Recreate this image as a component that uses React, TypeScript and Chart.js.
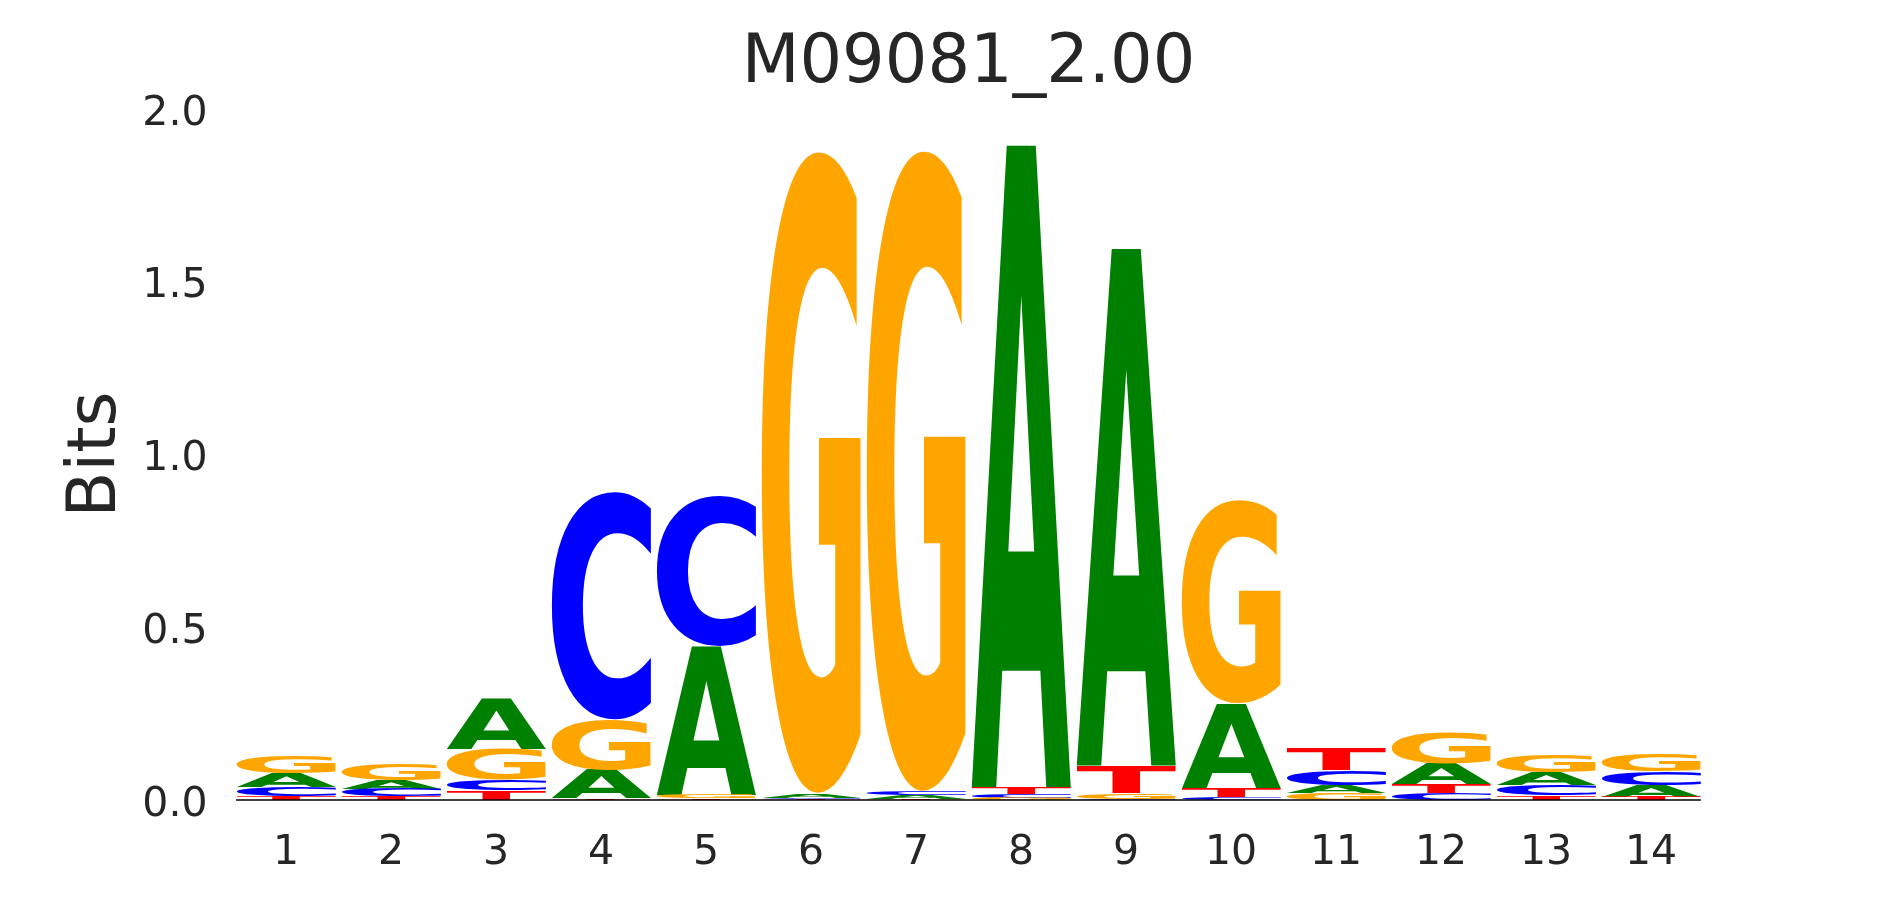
import { useEffect, useRef } from "react";
import { Chart, registerables } from "chart.js";

Chart.register(...registerables);

const positions = ["1", "2", "3", "4", "5", "6", "7", "8", "9", "10", "11", "12", "13", "14"];
const bitsA = [0.039, 0.026, 0.145, 0.083, 0.43, 0.012, 0.01, 1.86, 1.497, 0.245, 0.023, 0.058, 0.036, 0.034];
const bitsC = [0.027, 0.022, 0.031, 0.66, 0.436, 0.004, 0.012, 0.01, 0.004, 0.008, 0.043, 0.02, 0.031, 0.04];
const bitsG = [0.05, 0.048, 0.089, 0.145, 0.01, 1.862, 1.858, 0.006, 0.016, 0.59, 0.02, 0.088, 0.052, 0.05];
const bitsT = [0.012, 0.01, 0.027, 0.005, 0.005, 0.003, 0.003, 0.02, 0.08, 0.027, 0.064, 0.026, 0.0125, 0.01];
const letters = ["A", "C", "G", "T"];
const letterColors = ["#008000", "#0000ff", "#ffa500", "#ff0000"];
const titleText = "M09081_2.00";
const yAxisTitle = "Bits";

const TEXT = "#262626";
const FONT = "'DejaVu Sans', sans-serif";

function buildRanges() {
  const series = [bitsA, bitsC, bitsG, bitsT];
  const ranges: [number, number][][] = series.map(() => []);
  positions.forEach((_, i) => {
    const order = [0, 1, 2, 3].sort((a, b) => series[a][i] - series[b][i]);
    let cum = 0;
    order.forEach((li) => {
      const v = series[li][i];
      ranges[li][i] = [cum, cum + v];
      cum += v;
    });
  });
  return ranges;
}

const logoPlugin = {
  id: "logoGlyphs",
  afterDatasetsDraw(chart: any) {
    const ctx = chart.ctx as CanvasRenderingContext2D;
    let minLeft = Infinity;
    let maxRight = -Infinity;
    chart.data.datasets.forEach((ds: any, di: number) => {
      const meta = chart.getDatasetMeta(di);
      meta.data.forEach((el: any) => {
        const p = el.getProps(["x", "y", "base", "width"], true);
        const left = p.x - p.width / 2;
        const w = p.width;
        const top = Math.min(p.y, p.base);
        const bottom = Math.max(p.y, p.base);
        const h = bottom - top;
        minLeft = Math.min(minLeft, left);
        maxRight = Math.max(maxRight, left + w);
        if (h <= 0.05) return;
        ctx.save();
        ctx.font = `bold 200px ${FONT}`;
        ctx.textAlign = "left";
        ctx.textBaseline = "alphabetic";
        const m = ctx.measureText(ds.letter);
        const inkW = m.actualBoundingBoxLeft + m.actualBoundingBoxRight;
        const inkH = m.actualBoundingBoxAscent + m.actualBoundingBoxDescent;
        ctx.translate(left, bottom);
        ctx.scale(w / inkW, h / inkH);
        ctx.fillStyle = ds.glyphColor;
        ctx.fillText(ds.letter, m.actualBoundingBoxLeft, -m.actualBoundingBoxDescent);
        ctx.restore();
      });
    });
    const y0 = chart.scales.y.getPixelForValue(0);
    ctx.save();
    ctx.strokeStyle = "#000000";
    ctx.lineWidth = 1.5;
    ctx.beginPath();
    ctx.moveTo(minLeft, y0);
    ctx.lineTo(maxRight, y0);
    ctx.stroke();
    ctx.restore();
  },
};

export default function App() {
  const ref = useRef<HTMLCanvasElement>(null);
  useEffect(() => {
    document.body.style.margin = "0";
    const ranges = buildRanges();
    const chart = new Chart(ref.current as HTMLCanvasElement, {
      type: "bar",
      data: {
        labels: positions,
        datasets: letters.map((l, i) => ({
          label: l,
          letter: l,
          glyphColor: letterColors[i],
          data: ranges[i],
          backgroundColor: "rgba(0,0,0,0)",
          borderWidth: 0,
          grouped: false,
          barPercentage: 0.95,
          categoryPercentage: 1.0,
        })) as any,
      },
      options: {
        responsive: false,
        animation: false,
        devicePixelRatio: 1,
        layout: { padding: { left: 0, right: 186.5, top: 0, bottom: 0 } },
        plugins: {
          legend: { display: false },
          tooltip: { enabled: false },
          title: {
            display: true,
            text: titleText,
            fullSize: false,
            color: TEXT,
            font: { family: FONT, size: 67, weight: "normal" },
            padding: { top: 24, bottom: 4.6 },
          },
        },
        scales: {
          x: {
            type: "category",
            offset: true,
            grid: { display: false, drawTicks: false },
            border: { display: false },
            ticks: { color: TEXT, font: { family: FONT, size: 41 }, padding: 29, maxRotation: 0 },
            afterFit: (s: any) => {
              s.height = 100;
            },
          },
          y: {
            min: 0,
            max: 2,
            grid: { display: false, drawTicks: false },
            border: { display: false },
            ticks: {
              stepSize: 0.5,
              color: TEXT,
              font: { family: FONT, size: 41 },
              padding: 26,
              labelOffset: 5,
              callback: (v: any) => Number(v).toFixed(1),
            },
            title: {
              display: true,
              text: yAxisTitle,
              color: TEXT,
              font: { family: FONT, size: 67 },
              padding: { top: 57, bottom: 0 },
            },
            afterFit: (s: any) => {
              s.width = 233.5;
            },
          },
        },
      },
      plugins: [logoPlugin],
    });
    return () => chart.destroy();
  }, []);
  return (
    <div style={{ width: 1890, height: 900 }}>
      <canvas ref={ref} width={1890} height={900} />
    </div>
  );
}
